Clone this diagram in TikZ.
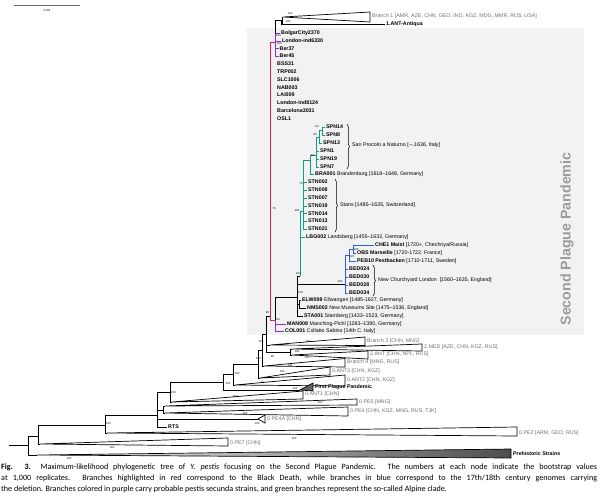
\documentclass[tikz,border=0pt]{standalone}
\usepackage{fontspec}
\setmainfont{Liberation Sans}
\newfontfamily\captionfont{Carlito}
\usepackage{tikz}
\usetikzlibrary{positioning,decorations.pathreplacing}

\definecolor{bdred}{HTML}{D9233C}
\definecolor{deletion}{HTML}{2F5FF0}
\definecolor{secunda}{HTML}{8A2BE2}
\definecolor{alpine}{HTML}{0E9F7E}
\definecolor{panel}{HTML}{F2F2F2}
\definecolor{cladegray}{HTML}{6E6E6E}
\definecolor{pandemicgray}{HTML}{9B9B9B}

\begin{document}
\begin{tikzpicture}[x=1pt, y=-1pt,
    branch/.style={line width=0.9pt},
    cladetri/.style={draw, line width=0.7pt, line join=miter},
    leaf/.style={anchor=west, inner sep=1pt, font=\fontsize{5.3}{6}\selectfont\bfseries},
    leafnote/.style={anchor=west, inner sep=1pt, font=\fontsize{5.3}{6}\selectfont},
    cladelabel/.style={anchor=west, inner sep=1pt, text=cladegray, font=\fontsize{5.3}{6}\selectfont},
    boot/.style={inner sep=0pt, font=\fontsize{2.8}{3}\selectfont},
    cladebrace/.style={decorate, decoration={brace, amplitude=2.5pt}, line width=0.5pt},
    caption/.style={anchor=west, inner sep=0pt, font=\captionfont\fontsize{8.1}{9}\selectfont}
]
\useasboundingbox (0,0) rectangle (600,498);

% Second pandemic panel
\fill[panel] (247,28) rectangle (584,335);
\node[rotate=90, text=pandemicgray, font=\fontsize{14.2}{15}\selectfont\bfseries] (panel_title) at (567,239) {Second Plague Pandemic};

% Scale bar
\coordinate (scale_left) at (14,5);
\coordinate (scale_right) at (80,5);
\draw[line width=0.8pt, black!60] (scale_left) -- (scale_right);
\node[boot] (scale_label) at (47,11) {0.004};

% Internal nodes
\coordinate (root_stub) at (9,445);
\coordinate (n_root) at (28,445);
\coordinate (n_1) at (38,436);
\coordinate (n_2) at (105,425);
\coordinate (n_3) at (157,415);
\coordinate (n_pe) at (163,410);
\coordinate (n_q6) at (170,392);
\coordinate (n_q5) at (223,382);
\coordinate (n_q4) at (233,374);
\coordinate (n_q3) at (258,364);
\coordinate (n_q2) at (262,350);
\coordinate (n_q1) at (266,334);
\coordinate (n_med) at (290,352);
\coordinate (n_bd) at (270,316);
\coordinate (n_purple) at (275,42);
\coordinate (n_br1) at (282,20);
\coordinate (n_post) at (275,320);
\coordinate (n_k1) at (297,297);
\coordinate (n_k2) at (299,304);
\coordinate (n_blue) at (345,284);
\coordinate (n_bl2) at (349,255);
\coordinate (n_bl3) at (353,249);
\coordinate (n_g1) at (300,276);
\coordinate (n_g2) at (303,211);
\coordinate (n_g3) at (310,160);
\coordinate (n_g4) at (316,155);
\coordinate (n_g5) at (319,137);
\coordinate (n_g6) at (322,130);

% Collapsed clades (apex)
\coordinate (t_br1) at (283,17);
\coordinate (t_br3) at (270,345);
\coordinate (t_med) at (292,349);
\coordinate (t_2ant) at (292,355);
\coordinate (t_br4) at (264,366);
\coordinate (t_ant3) at (260,378);
\coordinate (t_ant2) at (235,385);
\coordinate (t_fpp) at (300,390);
\coordinate (t_ant1) at (172,402);
\coordinate (t_pe5) at (165,406);
\coordinate (t_pe4) at (165,413);
\coordinate (t_pe4a) at (258,419);
\coordinate (t_pe2) at (107,433);
\coordinate (t_pe7) at (40,444);
\coordinate (t_pre) at (37,455);

\draw[cladetri] (t_br1) -- (370,12) -- (370,22) -- cycle;
\draw[cladetri] (t_br3) -- (365,337) -- (365,345.5) -- cycle;
\draw[cladetri] (t_med) -- (422,344) -- (422,351) -- cycle;
\draw[cladetri] (t_2ant) -- (368,351) -- (368,359) -- cycle;
\draw[cladetri] (t_br4) -- (345,358.5) -- (345,367) -- cycle;
\draw[cladetri] (t_ant3) -- (330,367) -- (330,375) -- cycle;
\draw[cladetri] (t_ant2) -- (345,375) -- (345,386) -- cycle;
\draw[cladetri] (t_ant1) -- (303,391) -- (303,399) -- cycle;
\draw[cladetri] (t_pe5) -- (357,399) -- (357,405) -- cycle;
\draw[cladetri] (t_pe4) -- (348,407) -- (348,416) -- cycle;
\draw[cladetri] (t_pe4a) -- (265,415) -- (265,423) -- cycle;
\draw[cladetri] (t_pe2) -- (517,427) -- (517,436) -- cycle;
\draw[cladetri] (t_pe7) -- (228,438) -- (228,446) -- cycle;
\shade[left color=white, right color=black!70] (t_pre) -- (511,449) -- (511,458) -- cycle;
\draw[cladetri] (t_pre) -- (511,449) -- (511,458) -- cycle;
\filldraw[cladetri, fill=black!60] (t_fpp) -- (313,383) -- (313,391) -- cycle;

% Backbone
\draw[branch] (root_stub) -- (n_root);
\draw[branch] (n_root) |- (n_1);
\draw[branch] (n_root) |- (t_pre);
\draw[branch] (n_1) |- (n_2);
\draw[branch] (n_1) |- (t_pe7);
\draw[branch] (n_2) |- (n_3);
\draw[branch] (n_2) |- (t_pe2);
\draw[branch] (n_3) |- (n_q6);
\draw[branch] (n_3) |- (n_pe);
\draw[branch] (n_3) |- (t_pe4a);
\node[leaf] (l_rts) at (167,427) {RTS};
\draw[branch] (n_3) |- (l_rts.west);
\draw[branch] (n_pe) |- (t_pe5);
\draw[branch] (n_pe) |- (t_pe4);
\draw[branch] (n_q6) |- (n_q5);
\draw[branch] (n_q6) |- (t_ant1);
\draw[branch] (n_q5) |- (n_q4);
\draw[branch] (n_q5) |- (t_fpp);
\draw[branch] (n_q4) |- (n_q3);
\draw[branch] (n_q4) |- (t_ant2);
\draw[branch] (n_q3) |- (n_q2);
\draw[branch] (n_q3) |- (t_ant3);
\draw[branch] (n_q2) |- (n_q1);
\draw[branch] (n_q2) |- (t_br4);
\draw[branch] (n_q1) |- (n_bd);
\draw[branch] (n_q1) |- (t_br3);
\draw[branch] (n_q1) |- (n_med);
\draw[branch] (n_med) |- (t_med);
\draw[branch] (n_med) |- (t_2ant);

% Black Death polytomy
\draw[branch, bdred] (n_bd) |- (n_purple);
\draw[branch, bdred] (n_bd) |- (n_post);
\node[leaf] (l_bolgar) at (280,33) {BolgarCity2370};
\node[leaf] (l_lon6330) at (281,41) {London-ind6330};
\node[leaf] (l_ber37) at (278.5,48.5) {Ber37};
\node[leaf] (l_ber45) at (278.5,56) {Ber45};
\draw[branch, secunda] (n_purple) |- (l_bolgar.west);
\draw[branch, secunda] (n_purple) |- (l_lon6330.west);
\draw[branch, secunda] (n_purple) |- (l_ber37.west);
\draw[branch, secunda] (n_purple) |- (l_ber45.west);
\draw[branch] (l_bolgar.west -| n_purple) |- (n_br1);
\draw[branch] (n_br1) |- (t_br1);
\node[leaf] (l_antiqua) at (385,24.5) {1.ANT-Antiqua};
\draw[branch, line width=1.2pt] (n_br1) |- (l_antiqua.west);
\foreach \lname/\ly [count=\li] in {BSS31/64, TRP002/71.8, SLC1006/79.5, NAB003/87.3, LAI009/95, London-ind8124/102.8, Barcelona3031/110.5, OSL1/118.3}
    \node[leaf] (l_bd\li) at (276,\ly) {\lname};

% Post Black Death
\node[leafnote] (l_man) at (286,324) {\textbf{MAN008} Manching-Pichl [1283–1390, Germany]};
\node[leafnote] (l_col) at (284,331.5) {\textbf{COL001} Collatto Sabino [14th C. Italy]};
\draw[branch] (n_post) |- (n_k1);
\draw[branch, secunda] (n_post) |- (l_man.west);
\draw[branch, secunda] (n_post) |- (l_col.west);
\node[leafnote] (l_elw) at (301,300) {\textbf{ELW098} Ellwangen [1485-1627, Germany]};
\node[leafnote] (l_nms) at (306,308) {\textbf{NMS002} New Museums Site [1475–1536, England]};
\node[leafnote] (l_sta) at (303,316) {\textbf{STA001} Starnberg [1433–1523, Germany]};
\draw[branch] (n_k1) |- (n_g1);
\draw[branch] (n_k1) |- (n_blue);
\draw[branch] (n_k1) |- (n_k2);
\draw[branch] (n_k1) |- (l_sta.west);
\draw[branch] (n_k2) |- (l_elw.west);
\draw[branch] (n_k2) |- (l_nms.west);

% Deletion genomes
\node[leafnote] (l_che) at (374,245) {\textbf{CHE1 Maist} [1720+, Chechnya/Russia]};
\node[leafnote] (l_obs) at (356,253) {\textbf{OBS Marseille} [1720-1722, France]};
\node[leafnote] (l_peb) at (356,261) {\textbf{PEB10 Pestbacken} [1710-1711, Sweden]};
\draw[branch, deletion] (n_blue) |- (n_bl2);
\draw[branch, deletion] (n_bl2) |- (n_bl3);
\draw[branch, deletion] (n_bl2) |- (l_peb.west);
\draw[branch, deletion] (n_bl3) |- (l_che.west);
\draw[branch, deletion] (n_bl3) |- (l_obs.west);
\foreach \bname/\by in {024/269, 030/277, 028/285, 034/293} {
    \node[leaf] (l_bed\bname) at (348,\by) {BED\bname};
    \draw[branch, deletion] (n_blue) |- (l_bed\bname.west);
}
\coordinate (bed_top) at (373,265);
\coordinate (bed_bottom) at (373,296);
\draw[cladebrace] (bed_top) -- (bed_bottom);
\node[leafnote] (g_bed) at (377,280.5) {New Churchyard London\ \ [1560–1635, England]};

% Alpine clade
\node[leafnote] (l_lbg) at (305,237) {\textbf{LBG002} Landsberg [1455–1632, Germany]};
\node[leafnote] (l_bra) at (314,174.5) {\textbf{BRA001} Brandenburg [1618–1648, Germany]};
\draw[branch, alpine] (n_g1) |- (n_g2);
\draw[branch, alpine] (n_g1) |- (l_lbg.west);
\draw[branch, alpine] (n_g2) |- (n_g3);
\foreach \sname/\sy in {002/182, 008/190, 007/198, 019/206, 014/213.5, 013/221, 021/229} {
    \node[leaf] (l_stn\sname) at (307,\sy) {STN\sname};
    \draw[branch, alpine] (n_g2) |- (l_stn\sname.west);
}
\draw[branch, alpine] (n_g3) |- (n_g4);
\draw[branch, alpine] (n_g3) |- (l_bra.west);
\node[leaf] (l_spn14) at (325,127) {SPN14};
\node[leaf] (l_spn8) at (325,135) {SPN8};
\node[leaf] (l_spn13) at (322,143) {SPN13};
\node[leaf] (l_spn1) at (319,151) {SPN1};
\node[leaf] (l_spn19) at (319,159) {SPN19};
\node[leaf] (l_spn7) at (319,167) {SPN7};
\draw[branch, alpine] (n_g4) |- (n_g5);
\draw[branch, alpine] (n_g4) |- (l_spn1.west);
\draw[branch, alpine] (n_g4) |- (l_spn19.west);
\draw[branch, alpine] (n_g4) |- (l_spn7.west);
\draw[branch, alpine] (n_g5) |- (n_g6);
\draw[branch, alpine] (n_g5) |- (l_spn13.west);
\draw[branch, alpine] (n_g6) |- (l_spn14.west);
\draw[branch, alpine] (n_g6) |- (l_spn8.west);
\coordinate (spn_top) at (347,124);
\coordinate (spn_bottom) at (347,169);
\draw[cladebrace] (spn_top) -- (spn_bottom);
\node[leafnote] (g_spn) at (351,145.5) {San Procolo a Naturno [$\sim$1636, Italy]};
\coordinate (stn_top) at (335,179);
\coordinate (stn_bottom) at (335,232);
\draw[cladebrace] (stn_top) -- (stn_bottom);
\node[leafnote] (g_stn) at (339,205.5) {Stans [1485–1635, Switzerland]};

% Clade labels
\node[cladelabel] (c_br1) at (371,16) {Branch 1 [AMR, AZE, CHN, GEO, IND, KGZ, MDG, MMR, RUS, USA]};
\node[cladelabel] (c_br3) at (366,341) {Branch 3 [CHN, MNG]};
\node[cladelabel] (c_med) at (423,347.5) {2.MED [AZE, CHN, KGZ, RUS]};
\node[cladelabel] (c_2ant) at (369,354) {2.ANT [CHN, NPL, RUS]};
\node[cladelabel] (c_br4) at (346,362.5) {Branch 4 [MNG, RUS]};
\node[cladelabel] (c_ant3) at (331,371) {0.ANT3 [CHN, KGZ]};
\node[cladelabel] (c_ant2) at (346,380) {0.ANT2 [CHN, KGZ]};
\node[leaf] (c_fpp) at (314,387.5) {First Plague Pandemic};
\node[cladelabel] (c_ant1) at (304,394.5) {0.ANT1 [CHN]};
\node[cladelabel] (c_pe5) at (358,402) {0.PE5 [MNG]};
\node[cladelabel] (c_pe4) at (349,411) {0.PE4 [CHN, KGZ, MNG, RUS, TJK]};
\node[cladelabel] (c_pe4a) at (266,419) {0.PE4A [CHN]};
\node[cladelabel] (c_pe2) at (518,433.5) {0.PE2 [ARM, GEO, RUS]};
\node[cladelabel] (c_pe7) at (229,443) {0.PE7 [CHN]};
\node[leaf] (c_pre) at (512,453.5) {Prehistoric Strains};

% Bootstrap values
\foreach \bx/\by/\bv [count=\bi] in {290/14/100, 288/21.5/100, 278.5/35.5/100, 279.5/43.5/100, 274/209/76,
    317/127/94, 315/135/95, 312.5/156/98, 301/184/76, 297/211/100, 356/249.5/100, 351.5/257/100,
    340/281.5/100, 298.5/274/100, 300.5/292.5/100, 277.5/319.5/100, 267.5/313/96, 308/341.5/100,
    297/351.5/100, 310/350/96, 272.5/357/98, 307/358/100, 290/366/100, 282/372/100, 262.5/382.5/91,
    258.5/359/100, 261/342/100, 237/374/100, 228/384/100, 295/388.5/100, 173.5/393/100, 235/397/100,
    320/403/100, 245/414/100, 257/424/100, 108.5/424/100, 294/439/100, 112/448/100, 69/459/100}
    \node[boot] (boot_\bi) at (\bx,\by) {\bv};

% Caption
\node[caption] (cap_line1) at (1,467.5) {\makebox[596pt][s]{\textbf{Fig. 3.}\hspace{1.2em}Maximum-likelihood phylogenetic tree of \textit{Y. pestis} focusing on the Second Plague Pandemic. The numbers at each node indicate the bootstrap values}};
\node[caption] (cap_line2) at (1,478.5) {\makebox[596pt][s]{at 1,000 replicates. Branches highlighted in red correspond to the Black Death, while branches in blue correspond to the 17th/18th century genomes carrying}};
\node[caption] (cap_line3) at (1,489.5) {the deletion. Branches colored in purple carry probable pestis secunda strains, and green branches represent the so-called Alpine clade.};
\end{tikzpicture}
\end{document}
